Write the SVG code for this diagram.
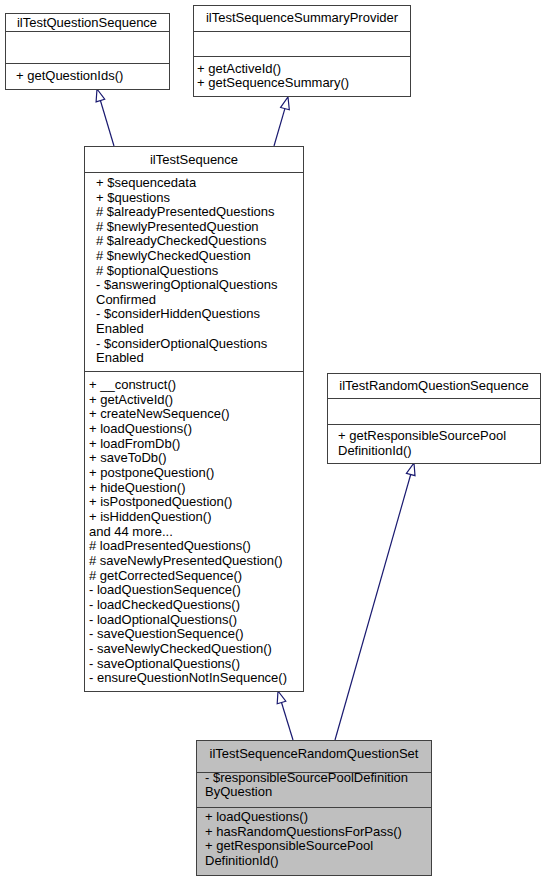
<svg xmlns="http://www.w3.org/2000/svg" width="546" height="881" viewBox="0 0 546 881">
<style>
.box{fill:#ffffff;stroke:#404040;stroke-width:1}
.cur{fill:#bfbfbf;stroke:#404040;stroke-width:1}
.sep{stroke:#404040;stroke-width:1}
text{font-family:"Liberation Sans",Arial,sans-serif;font-size:13px;fill:#000}
.t{text-anchor:middle}
.edge{stroke:#191970;stroke-width:1.2;fill:none}
.head{stroke:#191970;stroke-width:1.2;fill:#ffffff}
</style>
<rect width="546" height="881" fill="#ffffff"/>
<g id="connectors">
<line class="edge" x1="114" y1="146" x2="100.4" y2="100.5"/>
<polygon class="head" points="97,89 104.7,99.2 96.1,101.8"/>
<line class="edge" x1="274" y1="146" x2="284.9" y2="108.6"/>
<polygon class="head" points="288,97 289.3,109.8 280.6,107.5"/>
<line class="edge" x1="293" y1="740" x2="281.5" y2="702.5"/>
<polygon class="head" points="278,691 285.8,701.2 277.2,703.8"/>
<line class="edge" x1="335" y1="740" x2="410.7" y2="474.5"/>
<polygon class="head" points="414,463 415,475.7 406.4,473.3"/>
</g>
<g id="ilTestQuestionSequence">
<rect class="box" x="5.5" y="13.5" width="164" height="76"/>
<line class="sep" x1="5.5" y1="31.5" x2="169.5" y2="31.5"/>
<line class="sep" x1="5.5" y1="63.5" x2="169.5" y2="63.5"/>
<text class="t" x="87" y="26.5">ilTestQuestionSequence</text>
<text x="16" y="80">+ getQuestionIds()</text>
</g>
<g id="ilTestSequenceSummaryProvider">
<rect class="box" x="193.5" y="5.5" width="217" height="91"/>
<line class="sep" x1="193.5" y1="31.5" x2="410.5" y2="31.5"/>
<line class="sep" x1="193.5" y1="56.5" x2="410.5" y2="56.5"/>
<text class="t" x="302" y="21.5">ilTestSequenceSummaryProvider</text>
<text x="197" y="72.5">+ getActiveId()</text>
<text x="197" y="86.5">+ getSequenceSummary()</text>
</g>
<g id="ilTestSequence">
<rect class="box" x="84.5" y="146.5" width="219" height="545"/>
<line class="sep" x1="84.5" y1="172.5" x2="303.5" y2="172.5"/>
<line class="sep" x1="84.5" y1="371.5" x2="303.5" y2="371.5"/>
<text class="t" x="194" y="164">ilTestSequence</text>
<text x="96" y="187">+ $sequencedata</text>
<text x="96" y="201.6">+ $questions</text>
<text x="96" y="216.2"># $alreadyPresentedQuestions</text>
<text x="96" y="230.8"># $newlyPresentedQuestion</text>
<text x="96" y="245.4"># $alreadyCheckedQuestions</text>
<text x="96" y="260"># $newlyCheckedQuestion</text>
<text x="96" y="274.6"># $optionalQuestions</text>
<text x="96" y="289.2">- $answeringOptionalQuestions</text>
<text x="96" y="303.8">Confirmed</text>
<text x="96" y="318.4">- $considerHiddenQuestions</text>
<text x="96" y="333">Enabled</text>
<text x="96" y="347.6">- $considerOptionalQuestions</text>
<text x="96" y="362.2">Enabled</text>
<text x="89" y="389">+ __construct()</text>
<text x="89" y="403.7">+ getActiveId()</text>
<text x="89" y="418.3">+ createNewSequence()</text>
<text x="89" y="433">+ loadQuestions()</text>
<text x="89" y="447.7">+ loadFromDb()</text>
<text x="89" y="462.4">+ saveToDb()</text>
<text x="89" y="477">+ postponeQuestion()</text>
<text x="89" y="491.7">+ hideQuestion()</text>
<text x="89" y="506.4">+ isPostponedQuestion()</text>
<text x="89" y="521">+ isHiddenQuestion()</text>
<text x="89" y="535.7">and 44 more...</text>
<text x="89" y="550.4"># loadPresentedQuestions()</text>
<text x="89" y="565"># saveNewlyPresentedQuestion()</text>
<text x="89" y="579.7"># getCorrectedSequence()</text>
<text x="89" y="594.4">- loadQuestionSequence()</text>
<text x="89" y="609">- loadCheckedQuestions()</text>
<text x="89" y="623.7">- loadOptionalQuestions()</text>
<text x="89" y="638.4">- saveQuestionSequence()</text>
<text x="89" y="653">- saveNewlyCheckedQuestion()</text>
<text x="89" y="667.7">- saveOptionalQuestions()</text>
<text x="89" y="682.4">- ensureQuestionNotInSequence()</text>
</g>
<g id="ilTestRandomQuestionSequence">
<rect class="box" x="327.5" y="373.5" width="213" height="90"/>
<line class="sep" x1="327.5" y1="398.5" x2="540.5" y2="398.5"/>
<line class="sep" x1="327.5" y1="424.5" x2="540.5" y2="424.5"/>
<text class="t" x="434" y="390">ilTestRandomQuestionSequence</text>
<text x="338" y="440">+ getResponsibleSourcePool</text>
<text x="338" y="455">DefinitionId()</text>
</g>
<g id="ilTestSequenceRandomQuestionSet">
<rect class="cur" x="196.5" y="740.5" width="235" height="135"/>
<line class="sep" x1="196.5" y1="772.5" x2="431.5" y2="772.5"/>
<line class="sep" x1="196.5" y1="807.5" x2="431.5" y2="807.5"/>
<text class="t" x="314" y="757.5">ilTestSequenceRandomQuestionSet</text>
<text x="205" y="781.5">- $responsibleSourcePoolDefinition</text>
<text x="205" y="796">ByQuestion</text>
<text x="205" y="821">+ loadQuestions()</text>
<text x="205" y="835.5">+ hasRandomQuestionsForPass()</text>
<text x="205" y="850">+ getResponsibleSourcePool</text>
<text x="205" y="864.5">DefinitionId()</text>
</g>
</svg>
